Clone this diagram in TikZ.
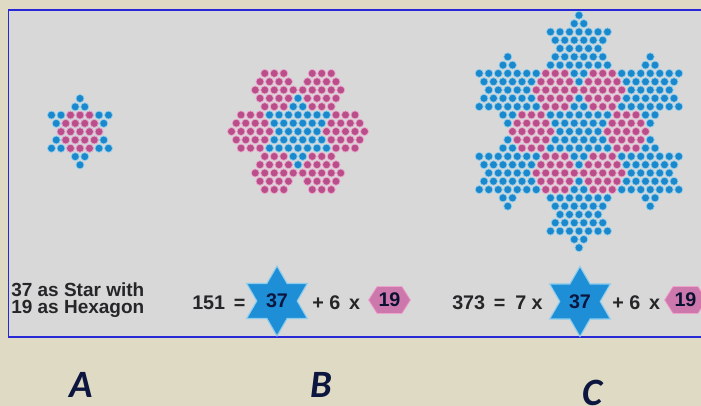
\documentclass[tikz,border=0pt]{standalone}
\usepackage{fontspec}
\setmainfont{Liberation Sans}
\newfontfamily\labelfont{Carlito}
\usetikzlibrary{positioning,shapes.geometric}

\definecolor{bgbeige}{RGB}{223,218,196}
\definecolor{panelgrey}{RGB}{216,216,216}
\definecolor{panelline}{RGB}{40,40,215}
\definecolor{dotblue}{RGB}{26,136,204}
\definecolor{haloblue}{RGB}{140,205,238}
\definecolor{dotpink}{RGB}{186,78,138}
\definecolor{halopink}{RGB}{238,165,205}
\definecolor{badgeblue}{RGB}{30,142,215}
\definecolor{badgepink}{RGB}{205,120,172}
\definecolor{inktext}{RGB}{38,38,40}
\definecolor{inknavy}{RGB}{12,22,62}
\definecolor{glowblue}{RGB}{70,120,220}

% lattice spacing (px) along a row and between rows
\newcommand\latsep{9.5}
\newcommand\latrow{8.3}

% 37 as star: centre x, centre y, lattice offset u, row offset b
\newcommand{\dotstar}[4]{%
  \foreach \rowb/\ustart/\cnt in {4/0/0,3/-0.5/1,2/-3/6,1/-2.5/5,0/-2/4,-1/-2.5/5,-2/-3/6,-3/-0.5/1,-4/0/0}{
    \foreach \kk in {0,...,\cnt}{
      \path[bluedot] ({#1+\latsep*((#3)+(\ustart)+\kk)},{#2-\latrow*((#4)+(\rowb))}) circle (3pt);
    }
  }
}
% 19 as hexagon
\newcommand{\dothex}[4]{%
  \foreach \rowb/\ustart/\cnt in {2/-1/2,1/-1.5/3,0/-2/4,-1/-1.5/3,-2/-1/2}{
    \foreach \kk in {0,...,\cnt}{
      \path[pinkdot] ({#1+\latsep*((#3)+(\ustart)+\kk)},{#2-\latrow*((#4)+(\rowb))}) circle (3pt);
    }
  }
}

\begin{document}
\begin{tikzpicture}[x=0.75pt,y=-0.75pt]
\tikzstyle{bluedot}=[fill=dotblue,draw=haloblue,line width=0.5pt]
\tikzstyle{pinkdot}=[fill=dotpink,draw=halopink,line width=0.5pt]
\tikzstyle{eqtext}=[font=\bfseries\fontsize{14.8}{15}\selectfont,text=inktext,inner sep=0pt,anchor=base west]
\tikzstyle{capt}=[font=\bfseries\fontsize{14.25}{11.8}\selectfont,text=inktext,inner sep=0pt,align=left,anchor=north west]
\tikzstyle{starbadge}=[star,star points=6,star point ratio=1.732,minimum size=52.5pt,inner sep=0pt,fill=badgeblue,draw=haloblue,line width=0.8pt,font=\bfseries\fontsize{14.8}{15}\selectfont,text=inknavy]
\tikzstyle{hexnum}=[font=\bfseries\fontsize{14.8}{15}\selectfont,text=inknavy!80!black,inner sep=0pt]
\tikzstyle{hexbadge}=[fill=badgepink,draw=halopink,line width=0.6pt]
\tikzstyle{figlabel}=[font=\labelfont\bfseries\itshape\fontsize{29}{29}\selectfont,text=inknavy,inner sep=0pt]

\useasboundingbox (0,0) rectangle (701,406);
\clip (0,0) rectangle (701,406);
\fill[bgbeige] (0,0) rectangle (701,406);
\filldraw[fill=panelgrey,draw=panelline,line width=1pt] (8.5,10) rectangle (712,337);

% A
\dotstar{80}{131.7}{0}{0}
\dothex{80}{131.7}{0}{0}

% B
\foreach \hu/\hb in {5/0,-5/0,2.5/5,-2.5/5,2.5/-5,-2.5/-5}{\dothex{298}{131.5}{\hu}{\hb}}
\dotstar{298}{131.5}{0}{0}

% C
\foreach \su/\sb in {0/0,0/10,0/-10,7.5/5,-7.5/5,7.5/-5,-7.5/-5}{\dotstar{579}{131.5}{\su}{\sb}}
\foreach \hu/\hb in {5/0,-5/0,2.5/5,-2.5/5,2.5/-5,-2.5/-5}{\dothex{579}{131.5}{\hu}{\hb}}

% captions and sums
\node[capt] (capA) at (11,282) {37 as Star with\\[1pt]19 as Hexagon};

\node[eqtext] (sumB) at (192,310) {151 \,=};
\node[starbadge] (starB) at (277,301) {37};
\node[eqtext] (plusB) at (312,310) {+ 6 \,x};
\coordinate (hexcB) at (389.5,300);
\filldraw[hexbadge] (hexcB) ++(-21,0) -- ++(8.5,-13.5) -- ++(25,0) -- ++(8.5,13.5) -- ++(-8.5,13.5) -- ++(-25,0) -- cycle;
\node[hexnum] (hexB) at (hexcB) {19};

\node[eqtext] (sumC) at (452,310) {373 \,=};
\node[eqtext] (timesC) at (515,310) {7 x};
\node[starbadge] (starC) at (580,301.5) {37};
\node[eqtext] (plusC) at (612,310) {+ 6 \,x};
\coordinate (hexcC) at (685.5,300);
\filldraw[hexbadge] (hexcC) ++(-21,0) -- ++(8.5,-13.5) -- ++(25,0) -- ++(8.5,13.5) -- ++(-8.5,13.5) -- ++(-25,0) -- cycle;
\node[hexnum] (hexC) at (hexcC) {19};

% figure letters
\node[figlabel] (labA) at (81,385) {A};
\node[figlabel] (labB) at (321,385) {B};
\node[figlabel] (labC) at (593,393) {C};
\end{tikzpicture}
\end{document}
